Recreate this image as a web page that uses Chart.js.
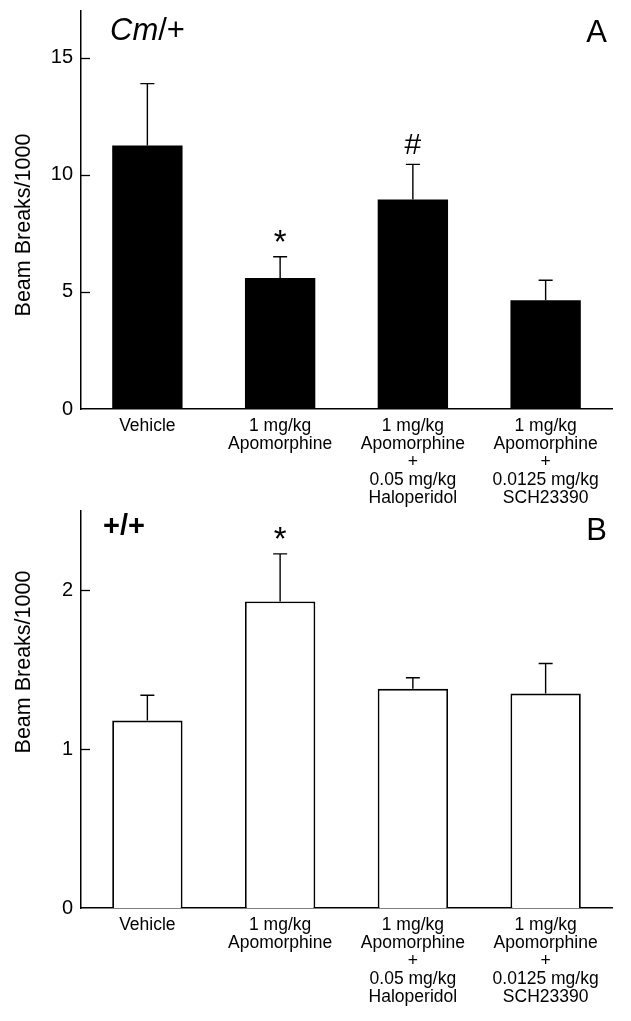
<!DOCTYPE html>
<html>
<head>
<meta charset="utf-8">
<script src="https://cdn.jsdelivr.net/npm/chart.js@4"></script>
<style>
  body { margin: 0; background: #fff; }
  canvas { display: block; }
</style>
</head>
<body>
<canvas id="chartA" width="631" height="510"></canvas>
<canvas id="chartB" width="631" height="511"></canvas>
<script>
// 데이터 (값은 그림에서 읽음)
const categories = [
    ["Vehicle"],
    ["1 mg/kg", "Apomorphine"],
    ["1 mg/kg", "Apomorphine", "+", "0.05 mg/kg", "Haloperidol"],
    ["1 mg/kg", "Apomorphine", "+", "0.0125 mg/kg", "SCH23390"]
];
const cmMeans = [11.25, 5.6, 8.95, 4.65];
const cmErrors = [2.65, 0.9, 1.5, 0.85];
const cmMarks = ["", "*", "#", ""];
const cmTicks = [0, 5, 10, 15];

const wtMeans = [1.18, 1.93, 1.38, 1.35];
const wtErrors = [0.16, 0.30, 0.07, 0.19];
const wtMarks = ["", "*", "", ""];
const wtTicks = [0, 1, 2];

const yTitle = "Beam Breaks/1000";
const FONT = '"Liberation Sans", Arial, sans-serif';

// 에러바, 표시, 안쪽 눈금, 라벨
function panelPlugin(means, errors, marks, cfg) {
    return {
        id: 'panelExtras',
        afterDatasetsDraw(chart) {
            const ctx = chart.ctx;
            const yScale = chart.scales.y;
            const meta = chart.getDatasetMeta(0);
            ctx.save();
            ctx.strokeStyle = '#000';
            ctx.fillStyle = '#000';
            ctx.lineWidth = 1.4;
            meta.data.forEach((bar, i) => {
                const top = yScale.getPixelForValue(means[i] + errors[i]);
                ctx.beginPath();
                ctx.moveTo(bar.x, bar.y);
                ctx.lineTo(bar.x, top);
                ctx.moveTo(bar.x - 7, top);
                ctx.lineTo(bar.x + 7, top);
                ctx.stroke();
                const mark = marks[i];
                if (mark) {
                    ctx.font = (mark === '*' ? '33px ' : '30px ') + FONT;
                    ctx.textAlign = 'center';
                    ctx.textBaseline = 'alphabetic';
                    ctx.fillText(mark, bar.x, top - (mark === '*' ? 4 : 10));
                }
            });

            // 안쪽 눈금
            const left = chart.chartArea.left;
            ctx.lineWidth = 1.3;
            yScale.ticks.forEach(t => {
                if (t.value === 0) return;
                const py = Math.round(yScale.getPixelForValue(t.value)) + 0.5;
                ctx.beginPath();
                ctx.moveTo(left, py);
                ctx.lineTo(left + 9, py);
                ctx.stroke();
            });
            ctx.restore();
        },
        afterDraw(chart) {
            const ctx = chart.ctx;
            ctx.save();
            ctx.fillStyle = '#000';
            // y축 제목
            ctx.translate(24, cfg.titleY);
            ctx.rotate(-Math.PI / 2);
            ctx.font = '21.5px ' + FONT;
            ctx.textAlign = 'center';
            ctx.textBaseline = 'middle';
            ctx.fillText(yTitle, 0, 0);
            ctx.restore();

            ctx.save();
            ctx.fillStyle = '#000';
            ctx.textBaseline = 'alphabetic';
            // 유전형 라벨
            if (cfg.italicPart) {
                ctx.font = 'italic 31px ' + FONT;
                ctx.textAlign = 'left';
                ctx.fillText(cfg.italicPart, cfg.tagX, cfg.tagY);
                const w = ctx.measureText(cfg.italicPart).width;
                ctx.font = '31px ' + FONT;
                ctx.fillText(cfg.plainPart, cfg.tagX + w, cfg.tagY);
            } else {
                ctx.font = 'bold 29px ' + FONT;
                ctx.textAlign = 'left';
                ctx.fillText(cfg.plainPart, cfg.tagX, cfg.tagY);
            }
            // 패널 문자
            ctx.font = '31px ' + FONT;
            ctx.textAlign = 'right';
            ctx.fillText(cfg.letter, 607, cfg.letterY);
            ctx.restore();
        }
    };
}

function makeChart(id, means, ticks, yMax, fill, border, padTop, xHeight, plugin) {
    const ctx = document.getElementById(id).getContext('2d');
    return new Chart(ctx, {
        type: 'bar',
        data: {
            labels: categories,
            datasets: [{
                data: means,
                backgroundColor: fill,
                borderColor: '#000',
                borderWidth: border,
                barPercentage: 0.53,
                categoryPercentage: 1
            }]
        },
        options: {
            responsive: false,
            animation: false,
            layout: { padding: { left: 0, right: 19, top: padTop, bottom: 0 } },
            plugins: { legend: { display: false }, tooltip: { enabled: false } },
            scales: {
                x: {
                    grid: { display: false, drawTicks: false },
                    border: { color: '#000', width: 1.5 },
                    ticks: {
                        color: '#000',
                        font: { family: FONT, size: 17.5, lineHeight: 1.03 },
                        padding: 8,
                        maxRotation: 0,
                        autoSkip: false
                    },
                    afterFit(scale) {
                        scale.height = xHeight;
                        scale.paddingLeft = 0;
                        scale.paddingRight = 0;
                    }
                },
                y: {
                    min: 0,
                    max: yMax,
                    grid: { display: false, drawTicks: false },
                    border: { color: '#000', width: 1.5 },
                    ticks: {
                        color: '#000',
                        font: { family: FONT, size: 20 },
                        padding: 8
                    },
                    afterBuildTicks(axis) { axis.ticks = ticks.map(v => ({ value: v })); },
                    afterFit(scale) {
                        scale.width = 81;
                        scale.paddingTop = 0;
                        scale.paddingBottom = 0;
                    }
                }
            }
        },
        plugins: [plugin]
    });
}

makeChart('chartA', cmMeans, cmTicks, 17, '#000', 0, 11, 101,
    panelPlugin(cmMeans, cmErrors, cmMarks,
        { titleY: 225, italicPart: 'Cm', plainPart: '/+', tagX: 110, tagY: 40, letter: 'A', letterY: 42 }));

makeChart('chartB', wtMeans, wtTicks, 2.5, '#fff', 1.8, 1, 113,
    panelPlugin(wtMeans, wtErrors, wtMarks,
        { titleY: 152, italicPart: '', plainPart: '+/+', tagX: 103, tagY: 25, letter: 'B', letterY: 30 }));
</script>
</body>
</html>
